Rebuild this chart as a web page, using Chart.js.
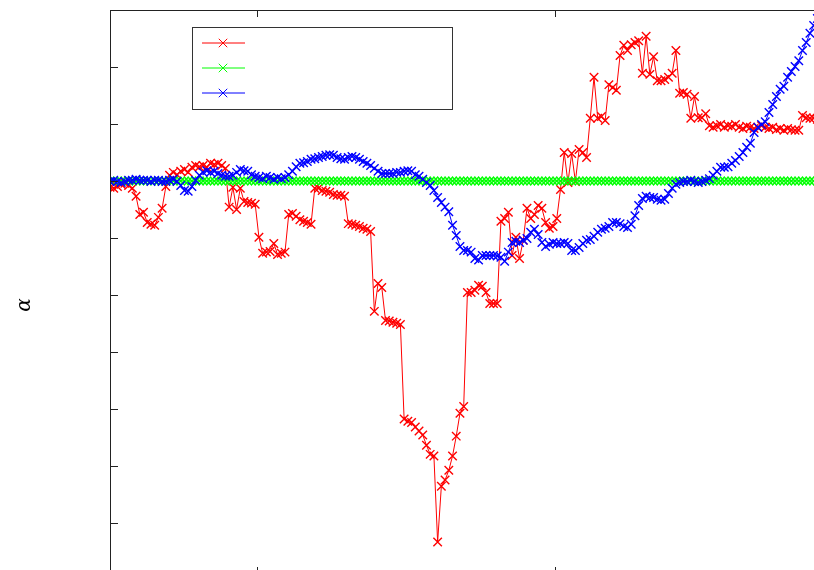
<!DOCTYPE html>
<html>
<head>
<meta charset="utf-8">
<script src="https://cdn.jsdelivr.net/npm/chart.js@4/dist/chart.umd.min.js"></script>
<style>
  html, body { margin: 0; padding: 0; background: #fff; width: 814px; height: 570px; overflow: hidden; }
  canvas { display: block; }
</style>
</head>
<body>
<canvas id="alphaChart" width="850" height="600"></canvas>
<script>
// waarden per tijdstap
const redValues = [
  -0.11, -0.13, -0.10, -0.06, -0.04, -0.08, -0.13, -0.27, -0.59, -0.55,
  -0.73, -0.76, -0.78, -0.64, -0.48, -0.10, 0.10, 0.15, 0.11, 0.17,
  0.20, 0.15, 0.24, 0.27, 0.25, 0.27, 0.24, 0.31, 0.29, 0.31,
  0.27, 0.22, -0.46, -0.11, -0.50, -0.13, -0.36, -0.38, -0.39, -0.41,
  -0.99, -1.27, -1.25, -1.24, -1.10, -1.29, -1.27, -1.25, -0.59, -0.57,
  -0.62, -0.68, -0.71, -0.73, -0.76, -0.13, -0.13, -0.17, -0.18, -0.20,
  -0.24, -0.25, -0.25, -0.27, -0.75, -0.76, -0.78, -0.80, -0.83, -0.85,
  -0.89, -2.29, -1.80, -1.87, -2.45, -2.46, -2.48, -2.50, -2.52, -4.18,
  -4.22, -4.24, -4.32, -4.39, -4.46, -4.64, -4.80, -4.83, -6.34, -5.36,
  -5.25, -5.08, -4.83, -4.48, -4.08, -3.96, -1.96, -1.96, -1.92, -1.83,
  -1.85, -1.96, -2.15, -2.15, -2.15, -0.71, -0.66, -0.55, -1.31, -0.99,
  -1.36, -1.04, -0.48, -0.66, -0.59, -0.43, -0.48, -0.73, -0.83, -0.80,
  -0.66, -0.15, 0.50, -0.03, 0.48, -0.01, 0.55, 0.50, 0.41, 1.10,
  1.82, 1.10, 1.13, 1.06, 1.69, 1.64, 1.59, 2.20, 2.38, 2.29,
  2.39, 2.43, 2.46, 1.89, 2.54, 1.87, 2.18, 1.76, 1.76, 1.78,
  1.82, 1.89, 2.29, 1.54, 1.55, 1.52, 1.10, 1.48, 1.11, 1.11,
  1.18, 0.97, 0.94, 0.97, 0.99, 0.94, 0.97, 0.96, 0.99, 0.94,
  0.92, 0.96, 0.94, 0.92, 0.94, 0.97, 0.94, 0.92, 0.94, 0.90,
  0.92, 0.89, 0.92, 0.90, 0.89, 0.89, 1.15, 1.11, 1.10, 1.10,
  1.08, 1.10, 1.08
];

const greenValues = [
  0, 0, 0, 0, 0, 0, 0, 0, 0, 0,
  0, 0, 0, 0, 0, 0, 0, 0, 0, 0,
  0, 0, 0, 0, 0, 0, 0, 0, 0, 0,
  0, 0, 0, 0, 0, 0, 0, 0, 0, 0,
  0, 0, 0, 0, 0, 0, 0, 0, 0, 0,
  0, 0, 0, 0, 0, 0, 0, 0, 0, 0,
  0, 0, 0, 0, 0, 0, 0, 0, 0, 0,
  0, 0, 0, 0, 0, 0, 0, 0, 0, 0,
  0, 0, 0, 0, 0, 0, 0, 0, 0, 0,
  0, 0, 0, 0, 0, 0, 0, 0, 0, 0,
  0, 0, 0, 0, 0, 0, 0, 0, 0, 0,
  0, 0, 0, 0, 0, 0, 0, 0, 0, 0,
  0, 0, 0, 0, 0, 0, 0, 0, 0, 0,
  0, 0, 0, 0, 0, 0, 0, 0, 0, 0,
  0, 0, 0, 0, 0, 0, 0, 0, 0, 0,
  0, 0, 0, 0, 0, 0, 0, 0, 0, 0,
  0, 0, 0, 0, 0, 0, 0, 0, 0, 0,
  0, 0, 0, 0, 0, 0, 0, 0, 0, 0,
  0, 0, 0, 0, 0, 0, 0, 0, 0, 0,
  0, 0, 0
];

const blueValues = [
  -0.01, 0.01, -0.01, -0.03, -0.01, 0.01, 0.01, 0.03, 0.01, 0.01,
  0.01, -0.01, 0.01, 0.01, -0.01, -0.01, 0.01, 0.03, -0.01, -0.08,
  -0.17, -0.18, -0.10, 0.01, 0.10, 0.15, 0.18, 0.15, 0.17, 0.13,
  0.10, 0.08, 0.08, 0.10, 0.15, 0.20, 0.18, 0.17, 0.11, 0.08,
  0.06, 0.04, 0.08, 0.06, 0.03, 0.06, 0.04, 0.06, 0.11, 0.17,
  0.25, 0.31, 0.32, 0.34, 0.38, 0.39, 0.41, 0.43, 0.45, 0.46,
  0.45, 0.41, 0.39, 0.38, 0.41, 0.43, 0.41, 0.38, 0.34, 0.31,
  0.27, 0.22, 0.17, 0.13, 0.13, 0.13, 0.13, 0.15, 0.15, 0.17,
  0.18, 0.17, 0.11, 0.08, 0.03, -0.03, -0.08, -0.17, -0.29, -0.38,
  -0.46, -0.54, -0.78, -0.96, -1.15, -1.22, -1.22, -1.25, -1.36, -1.39,
  -1.31, -1.31, -1.31, -1.31, -1.32, -1.34, -1.41, -1.25, -1.08, -1.06,
  -1.08, -1.04, -1.01, -0.90, -0.85, -0.94, -1.08, -1.15, -1.11, -1.08,
  -1.10, -1.10, -1.08, -1.10, -1.22, -1.22, -1.17, -1.10, -1.04, -1.03,
  -0.97, -0.90, -0.85, -0.83, -0.80, -0.73, -0.73, -0.75, -0.80, -0.82,
  -0.76, -0.61, -0.43, -0.31, -0.27, -0.29, -0.29, -0.32, -0.34, -0.32,
  -0.22, -0.13, -0.06, -0.03, -0.01, -0.01, 0.01, -0.01, -0.03, -0.01,
  0.01, 0.04, 0.10, 0.17, 0.24, 0.24, 0.25, 0.31, 0.36, 0.43,
  0.50, 0.59, 0.66, 0.85, 0.94, 0.99, 1.04, 1.20, 1.34, 1.48,
  1.61, 1.66, 1.82, 1.92, 2.01, 2.11, 2.29, 2.43, 2.59, 2.73,
  2.85, 2.97, 3.08
];

// tick posities (zonder labels)
const xTicks = [40, 120, 200];
const yTicks = [-6, -5, -4, -3, -2, -1, 0, 1, 2];

// tijdstap van elk punt
const steps = redValues.map((v, i) => i + 0.5);

function toPoints(values) {
  return values.map((v, i) => ({ x: steps[i], y: v }));
}

function makeDataset(label, values, color, order) {
  return {
    label: label,
    data: toPoints(values),
    borderColor: color,
    backgroundColor: color,
    borderWidth: 1,
    pointStyle: 'crossRot',
    pointRadius: 6,
    pointBorderWidth: 1.4,
    pointHoverRadius: 6,
    order: order
  };
}

const series = [
  makeDataset('rood', redValues, '#ff0000', 2),
  makeDataset('groen', greenValues, '#00ff00', 1),
  makeDataset('blauw', blueValues, '#0000ff', 0)
];

// kader, ticks naar binnen, legenda en as-titel
const framePlugin = {
  id: 'frame',
  afterDraw(chart) {
    const ctx = chart.ctx;
    const area = chart.chartArea;
    const xs = chart.scales.x;
    const ys = chart.scales.y;
    ctx.save();
    ctx.strokeStyle = '#222';
    ctx.lineWidth = 1;
    ctx.strokeRect(Math.round(area.left) + 0.5, Math.round(area.top) + 0.5,
      Math.round(area.right - area.left), Math.round(area.bottom - area.top));

    ctx.beginPath();
    yTicks.forEach(t => {
      const y = Math.round(ys.getPixelForValue(t)) + 0.5;
      ctx.moveTo(area.left, y);
      ctx.lineTo(area.left + 8, y);
      ctx.moveTo(area.right, y);
      ctx.lineTo(area.right - 8, y);
    });
    xTicks.forEach(t => {
      const x = Math.round(xs.getPixelForValue(t)) + 0.5;
      ctx.moveTo(x, area.top);
      ctx.lineTo(x, area.top + 7);
      ctx.moveTo(x, area.bottom);
      ctx.lineTo(x, area.bottom - 7);
    });
    ctx.stroke();

    // legenda zonder tekst
    ctx.strokeStyle = '#333';
    ctx.strokeRect(192.5, 27.5, 260, 82);
    series.forEach((ds, i) => {
      const y = 43 + i * 25;
      ctx.strokeStyle = ds.borderColor;
      ctx.lineWidth = 1;
      ctx.beginPath();
      ctx.moveTo(202, y);
      ctx.lineTo(245, y);
      ctx.stroke();
      Chart.helpers.drawPoint(ctx, {
        pointStyle: 'crossRot', radius: 6, borderWidth: 1.4, rotation: 0
      }, 223, y);
    });

    // y-as titel
    ctx.fillStyle = '#000';
    ctx.font = 'italic 20px "DejaVu Serif", "Liberation Serif", serif';
    ctx.translate(25, 305);
    ctx.rotate(-Math.PI / 2);
    ctx.textAlign = 'center';
    ctx.textBaseline = 'middle';
    ctx.fillText('α', 0, 0);
    ctx.restore();
  }
};

const ctx = document.getElementById('alphaChart').getContext('2d');
const alphaChart = new Chart(ctx, {
  type: 'line',
  data: { datasets: series },
  options: {
    responsive: false,
    animation: false,
    devicePixelRatio: 1,
    layout: { padding: { left: 110, top: 10, right: 14, bottom: 26 } },
    plugins: {
      legend: { display: false },
      tooltip: { enabled: false }
    },
    scales: {
      x: { type: 'linear', min: 0.5, max: 195.5, display: false },
      y: { min: -6.9, max: 3, display: false }
    }
  },
  plugins: [framePlugin]
});
</script>
</body>
</html>
